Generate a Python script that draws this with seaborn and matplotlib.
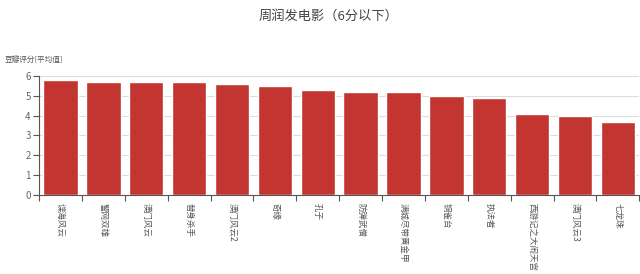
import matplotlib
matplotlib.use("Agg")
import matplotlib.pyplot as plt
import seaborn as sns
import pandas as pd
import numpy as np

# Douban average ratings of Chow Yun-fat films rated below 6
films = ["谍海风云", "警网双雄", "澳门风云", "替身杀手", "澳门风云2", "奇缘", "孔子",
         "防弹武僧", "满城尽带黄金甲", "铜雀台", "执法者", "西游记之大闹天宫", "澳门风云3", "七龙珠"]
ratings = [5.8, 5.7, 5.7, 5.7, 5.6, 5.5, 5.3, 5.2, 5.2, 5.0, 4.9, 4.1, 4.0, 3.7]
yticks = [0, 1, 2, 3, 4, 5, 6]

sns.set_theme(style="white")
plt.rcParams["font.family"] = ["Noto Sans CJK SC", "DejaVu Sans"]

df = pd.DataFrame({"film": films, "rating": ratings})

fig = plt.figure(figsize=(6.4, 2.74), dpi=100)
ax = fig.add_axes([0.061, 0.288, 0.938, 0.435])

sns.barplot(data=df, x="film", y="rating", color="#c23531", saturation=1,
            width=0.8, ax=ax, zorder=3)

ax.set_ylim(0, 6)
ax.set_xlim(-0.5, len(films) - 0.5)
ax.set_yticks(yticks)
ax.set_yticklabels([str(v) for v in yticks], fontsize=7, color="#666666")
ax.yaxis.grid(True, color="#dddddd", linewidth=0.8, zorder=0)
ax.set_axisbelow(True)

# category labels, read top-to-bottom
ax.set_xticks(range(len(films)))
ax.set_xticklabels(films, rotation=270, fontsize=6.1, color="#555555",
                   va="top", ha="center")
ax.tick_params(axis="x", which="major", length=0, pad=6)
ax.set_xticks(np.arange(-0.5, len(films), 1.0), minor=True)
ax.tick_params(axis="x", which="minor", length=4, color="#555555", width=0.8,
               direction="out", bottom=True)
ax.tick_params(axis="y", length=4, color="#555555", width=0.8, direction="out",
               left=True, pad=2)

for side in ["top", "right"]:
    ax.spines[side].set_visible(False)
for side in ["left", "bottom"]:
    ax.spines[side].set_color("#555555")
    ax.spines[side].set_linewidth(0.8)

ax.set_xlabel("")
ax.set_ylabel("")

fig.text(0.007, 0.78, "豆瓣评分[平均值]", fontsize=5.5, color="#555555",
         ha="left", va="center")
fig.text(0.513, 0.94, "周润发电影（6分以下）", fontsize=9.5, color="#444444",
         ha="center", va="center")

fig.savefig("out.png", dpi=100, facecolor="white")
